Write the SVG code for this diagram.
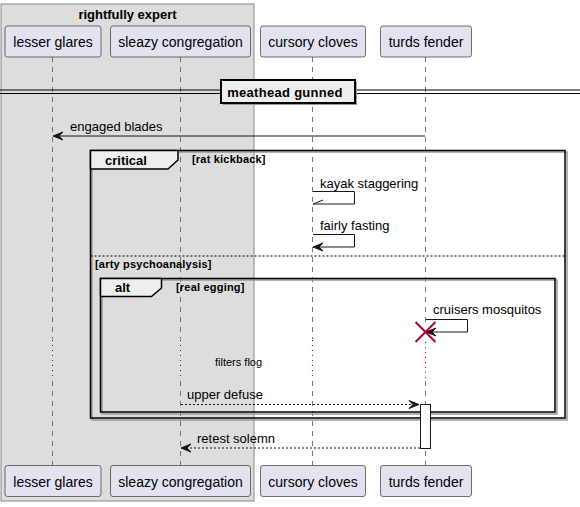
<svg xmlns="http://www.w3.org/2000/svg" width="580" height="507" viewBox="0 0 580 507">
<style>
text{font-family:"Liberation Sans",Arial,sans-serif;fill:#000}
.pn{font-size:14px}
.msg{font-size:13px}
.b13{font-size:13px;font-weight:bold}
.b11{font-size:11px;font-weight:bold;letter-spacing:0.2px}
.s11{font-size:11px}
.part{fill:#E2E2F0;stroke:#181818;stroke-width:0.6}
.life{stroke:#555;stroke-width:0.8;stroke-dasharray:5,5;fill:none}
.delay{stroke:#A80036;stroke-width:1;stroke-dasharray:1,4;fill:none}
.ln{stroke:#181818;stroke-width:1;fill:none}
.dl{stroke:#181818;stroke-width:1;fill:none;stroke-dasharray:2,2}
.ah{fill:#181818;stroke:#181818;stroke-width:1}
.frame{fill:none;stroke:#000;stroke-width:1.5}
.shadow{fill:none;stroke:#999;stroke-width:1.5}
.tab{fill:#EEEEEE;stroke:#000;stroke-width:1.5}
</style>
<g id="box-rightfully-expert">
<rect x="1" y="4" width="253" height="497" fill="#DDDDDD" stroke="#888" stroke-width="1"/>
<text class="b13" x="127.5" y="19" text-anchor="middle">rightfully expert</text>
</g>
<g id="lifelines">
<path class="life" d="M52.5,57V339M52.5,381V465"/>
<path class="life" d="M180.5,57V339M180.5,381V465"/>
<path class="life" d="M312.5,57V339M312.5,381V465"/>
<path class="life" d="M425.5,57V322M425.5,381V465"/>
<path class="delay" d="M52.5,340V380M180.5,340V380M312.5,340V380M425.5,342V380"/>
</g>
<g id="divider-meathead-gunned">
<line x1="0" y1="90" x2="580" y2="90" stroke="#000" stroke-width="1"/>
<line x1="0" y1="93.5" x2="580" y2="93.5" stroke="#000" stroke-width="1"/>
<rect x="223" y="82" width="134" height="23" fill="#999"/>
<rect x="221" y="80" width="134" height="23" fill="#EEEEEE" stroke="#000" stroke-width="2"/>
<text class="b13" x="285" y="96.5" text-anchor="middle" style="letter-spacing:0.3px">meathead gunned</text>
</g>
<g id="frame-critical">
<rect class="shadow" x="92" y="152" width="475" height="268"/>
<rect class="frame" x="90.5" y="150.5" width="474.5" height="267.5"/>
<path class="tab" d="M90.5,150.5H178V160L168,169H90.5Z"/>
<text class="b13" x="105" y="165">critical</text>
<text class="b11" x="192" y="163">[rat kickback]</text>
<line x1="90.5" y1="256" x2="565" y2="256" stroke="#000" stroke-width="1" stroke-dasharray="2,2"/>
<text class="b11" x="95" y="268">[arty psychoanalysis]</text>
</g>
<g id="frame-alt">
<rect class="shadow" x="102" y="280" width="455" height="134"/>
<rect class="frame" x="100.5" y="278.5" width="454.5" height="133.5"/>
<path class="tab" d="M100.5,278.5H161.5V288L151.5,296.5H100.5Z"/>
<text class="b13" x="115" y="292">alt</text>
<text class="b11" x="176" y="291">[real egging]</text>
</g>
<g id="participants-top">
<g id="p-lesser-glares-top"><rect class="part" x="5" y="26" width="96" height="31" rx="2.5"/><text class="pn" x="53" y="47" text-anchor="middle">lesser glares</text></g>
<g id="p-sleazy-congregation-top"><rect class="part" x="110.5" y="26" width="140" height="31" rx="2.5"/><text class="pn" x="180.5" y="47" text-anchor="middle">sleazy congregation</text></g>
<g id="p-cursory-cloves-top"><rect class="part" x="260.5" y="26" width="105" height="31" rx="2.5"/><text class="pn" x="313" y="47" text-anchor="middle">cursory cloves</text></g>
<g id="p-turds-fender-top"><rect class="part" x="380.5" y="26" width="91" height="31" rx="2.5"/><text class="pn" x="426" y="47" text-anchor="middle">turds fender</text></g>
</g>
<g id="participants-bottom">
<g id="p-lesser-glares-bottom"><rect class="part" x="5" y="465.5" width="96" height="31" rx="2.5"/><text class="pn" x="53" y="486.5" text-anchor="middle">lesser glares</text></g>
<g id="p-sleazy-congregation-bottom"><rect class="part" x="110.5" y="465.5" width="140" height="31" rx="2.5"/><text class="pn" x="180.5" y="486.5" text-anchor="middle">sleazy congregation</text></g>
<g id="p-cursory-cloves-bottom"><rect class="part" x="260.5" y="465.5" width="105" height="31" rx="2.5"/><text class="pn" x="313" y="486.5" text-anchor="middle">cursory cloves</text></g>
<g id="p-turds-fender-bottom"><rect class="part" x="380.5" y="465.5" width="91" height="31" rx="2.5"/><text class="pn" x="426" y="486.5" text-anchor="middle">turds fender</text></g>
</g>
<g id="activation-turds-fender">
<rect x="420.5" y="404.5" width="10" height="44" fill="#FFFFFF" stroke="#181818" stroke-width="1"/>
</g>
<g id="connectors">
<g id="msg-engaged-blades">
<line class="ln" x1="425" y1="136" x2="54" y2="136"/>
<polygon class="ah" points="53,136 63,132 59,136 63,140"/>
<text class="msg" x="70" y="131">engaged blades</text>
</g>
<g id="msg-kayak-staggering">
<path class="ln" d="M313,191.5H354.5V204H313"/>
<line class="ln" x1="313" y1="204" x2="323" y2="200"/>
<text class="msg" x="320" y="188">kayak staggering</text>
</g>
<g id="msg-fairly-fasting">
<path class="ln" d="M313,234.5H354.5V247H314"/>
<polygon class="ah" points="313,247 323,243 319,247 323,251"/>
<text class="msg" x="320" y="230">fairly fasting</text>
</g>
<g id="msg-cruisers-mosquitos">
<path class="ln" d="M426,319.5H467.5V332H427"/>
<polygon class="ah" points="426,332 436,328 432,332 436,336"/>
<text class="msg" x="433" y="314">cruisers mosquitos</text>
</g>
<g id="destroy-turds-fender">
<line x1="415.5" y1="322" x2="435.5" y2="342" stroke="#A80036" stroke-width="2"/>
<line x1="415.5" y1="342" x2="435.5" y2="322" stroke="#A80036" stroke-width="2"/>
</g>
<g id="delay-filters-flog">
<text class="s11" x="215" y="366">filters flog</text>
</g>
<g id="msg-upper-defuse">
<line class="dl" x1="181" y1="404.5" x2="418" y2="404.5"/>
<polygon class="ah" points="419,404.5 409,400.5 413,404.5 409,408.5"/>
<text class="msg" x="187" y="399">upper defuse</text>
</g>
<g id="msg-retest-solemn">
<line class="dl" x1="420" y1="448" x2="182" y2="448"/>
<polygon class="ah" points="181,448 191,444 187,448 191,452"/>
<text class="msg" x="197" y="443">retest solemn</text>
</g>
</g>
</svg>
